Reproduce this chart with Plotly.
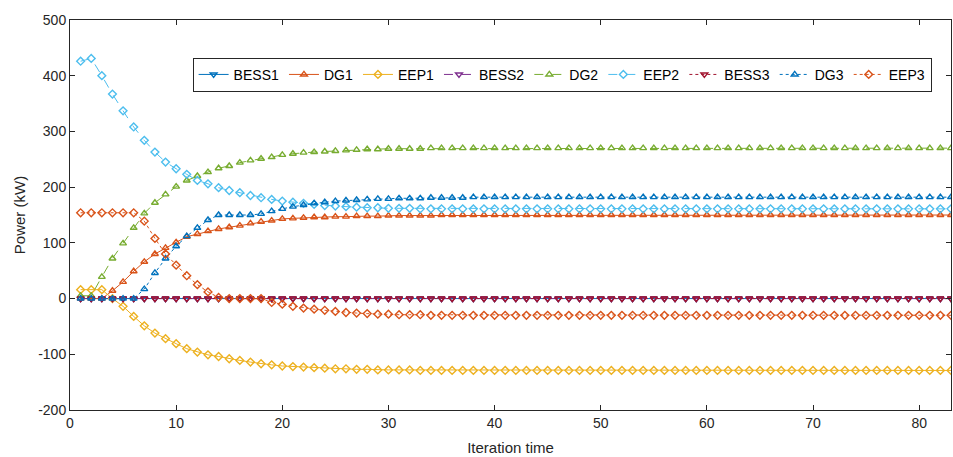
import plotly.graph_objects as go

iterations = list(range(1, 84))

BESS1 = [0, 0, 0, 0, 0, 0, 0, 0, 0, 0,
         0, 0, 0, 0, 0, 0, 0, 0, 0, 0,
         0, 0, 0, 0, 0, 0, 0, 0, 0, 0,
         0, 0, 0, 0, 0, 0, 0, 0, 0, 0,
         0, 0, 0, 0, 0, 0, 0, 0, 0, 0,
         0, 0, 0, 0, 0, 0, 0, 0, 0, 0,
         0, 0, 0, 0, 0, 0, 0, 0, 0, 0,
         0, 0, 0, 0, 0, 0, 0, 0, 0, 0,
         0, 0, 0]
BESS2 = list(BESS1)
BESS3 = list(BESS1)

DG1 = [0, 0, 0, 14, 30, 49, 66, 80, 91, 101,
       111, 116, 121, 125, 128, 131, 135, 138, 140, 143,
       144, 145, 146, 146, 147, 147, 148, 148, 148, 149,
       149, 149, 149, 149, 150, 150, 150, 150, 150, 150,
       150, 150, 150, 150, 150, 150, 150, 150, 150, 150,
       150, 150, 150, 150, 150, 150, 150, 150, 150, 150,
       150, 150, 150, 150, 150, 150, 150, 150, 150, 150,
       150, 150, 150, 150, 150, 150, 150, 150, 150, 150,
       150, 150, 150]

DG2 = [5, 5, 39, 72, 99, 127, 153, 172, 187, 201,
       212, 220, 227, 234, 238, 244, 248, 251, 254, 258,
       260, 262, 263, 264, 265, 266, 267, 268, 268, 269,
       269, 269, 269, 270, 270, 270, 270, 270, 270, 270,
       270, 270, 270, 270, 270, 270, 270, 270, 270, 270,
       270, 270, 270, 270, 270, 270, 270, 270, 270, 270,
       270, 270, 270, 270, 270, 270, 270, 270, 270, 270,
       270, 270, 270, 270, 270, 270, 270, 270, 270, 270,
       270, 270, 270]

DG3 = [0, 0, 0, 0, 0, 0, 17, 46, 72, 94,
       112, 127, 141, 150, 150, 150, 150, 152, 157, 161,
       165, 168, 171, 173, 175, 176, 177, 178, 179, 179,
       180, 180, 180, 181, 181, 181, 181, 182, 182, 182,
       182, 182, 182, 182, 182, 182, 182, 182, 182, 182,
       182, 182, 182, 182, 182, 182, 182, 182, 182, 182,
       182, 182, 182, 182, 182, 182, 182, 182, 182, 182,
       182, 182, 182, 182, 182, 182, 182, 182, 182, 182,
       182, 182, 182]

EEP1 = [16, 16, 16, 0, -14, -32, -49, -62, -72, -81,
        -90, -96, -101, -104, -108, -111, -114, -117, -119, -121,
        -122, -123, -124, -125, -126, -126, -127, -127, -128, -128,
        -128, -128, -129, -129, -129, -129, -129, -129, -129, -129,
        -129, -129, -129, -129, -129, -129, -129, -129, -129, -129,
        -129, -129, -129, -129, -129, -129, -129, -129, -129, -129,
        -129, -129, -129, -129, -129, -129, -129, -129, -129, -129,
        -129, -129, -129, -129, -129, -129, -129, -129, -129, -129,
        -129, -129, -129]

EEP2 = [426, 431, 400, 367, 337, 308, 284, 263, 245, 233,
        223, 212, 206, 199, 194, 190, 185, 181, 178, 175,
        173, 171, 169, 167, 166, 165, 164, 163, 163, 162,
        162, 162, 161, 161, 161, 161, 161, 161, 161, 161,
        161, 161, 161, 161, 161, 161, 161, 161, 161, 161,
        161, 161, 161, 161, 161, 161, 161, 161, 161, 161,
        161, 161, 161, 161, 161, 161, 161, 161, 161, 161,
        161, 161, 161, 161, 161, 161, 161, 161, 161, 161,
        161, 161, 161]

EEP3 = [154, 154, 154, 154, 154, 154, 139, 108, 80, 60,
        41, 25, 12, 2, 0, 0, 0, 0, -7, -10,
        -14, -17, -19, -21, -23, -25, -26, -27, -28, -28,
        -29, -29, -29, -30, -30, -30, -30, -30, -30, -30,
        -30, -30, -30, -30, -30, -30, -30, -30, -30, -30,
        -30, -30, -30, -30, -30, -30, -30, -30, -30, -30,
        -30, -30, -30, -30, -30, -30, -30, -30, -30, -30,
        -30, -30, -30, -30, -30, -30, -30, -30, -30, -30,
        -30, -30, -30]

x_ticks = [0, 10, 20, 30, 40, 50, 60, 70, 80]
y_ticks = [-200, -100, 0, 100, 200, 300, 400, 500]
y_tick_labels = ["-200", "-100", "0", "100", "200", "300", "400", "500"]

series = [
    ("BESS1", BESS1, "#0072BD", "solid", "triangle-down-open"),
    ("DG1", DG1, "#D95319", "solid", "triangle-up-open"),
    ("EEP1", EEP1, "#EDB120", "solid", "diamond-open"),
    ("BESS2", BESS2, "#7E2F8E", "dash", "triangle-down-open"),
    ("DG2", DG2, "#77AC30", "dash", "triangle-up-open"),
    ("EEP2", EEP2, "#4DBEEE", "dash", "diamond-open"),
    ("BESS3", BESS3, "#A2142F", "dot", "triangle-down-open"),
    ("DG3", DG3, "#0072BD", "dot", "triangle-up-open"),
    ("EEP3", EEP3, "#D95319", "dot", "diamond-open"),
]

fig = go.Figure()
for name, vals, color, dash, sym in series:
    fig.add_trace(go.Scatter(
        x=iterations, y=vals, name=name, mode="lines+markers",
        line=dict(color=color, width=1, dash=dash),
        marker=dict(symbol=sym, size=6, color=color, line=dict(width=1.4, color=color)),
    ))

font_family = "Liberation Sans, Arial, sans-serif"
axis_color = "#262626"

fig.update_layout(
    width=953, height=457,
    margin=dict(l=70, r=2, t=20, b=47),
    paper_bgcolor="white", plot_bgcolor="white",
    font=dict(family=font_family, size=14, color=axis_color),
    showlegend=True,
    legend=dict(
        orientation="h", x=0.978, y=0.903, xanchor="right", yanchor="top",
        bordercolor="#262626", borderwidth=1, bgcolor="white",
        font=dict(family=font_family, size=14, color="black"),
        itemwidth=30, tracegroupgap=0,
    ),
    xaxis=dict(
        range=[0, 83], tickvals=x_ticks, ticks="inside", ticklen=5,
        tickcolor=axis_color, showline=True, linecolor=axis_color, linewidth=1,
        mirror="ticks", showgrid=False, zeroline=False,
        title=dict(text="Iteration time", font=dict(size=15), standoff=12),
        tickfont=dict(size=14),
    ),
    yaxis=dict(
        range=[-200, 500], tickvals=y_ticks, ticktext=y_tick_labels,
        ticks="inside", ticklen=5,
        tickcolor=axis_color, showline=True, linecolor=axis_color, linewidth=1,
        mirror="ticks", showgrid=False, zeroline=False,
        title=dict(text="Power (kW)", font=dict(size=15), standoff=8),
        tickfont=dict(size=14),
    ),
)

fig.write_html("out.html")
